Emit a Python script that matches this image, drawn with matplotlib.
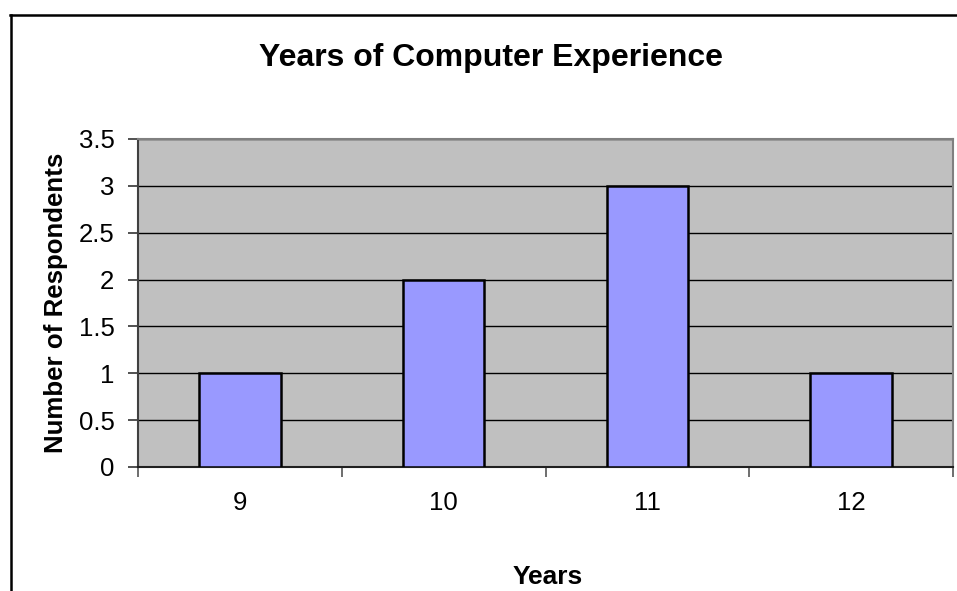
import matplotlib
matplotlib.use("Agg")
import matplotlib.pyplot as plt
from matplotlib.lines import Line2D
import numpy as np

categories = ["9", "10", "11", "12"]
values = [1, 2, 3, 1]
yticks = [0, 0.5, 1, 1.5, 2, 2.5, 3, 3.5]

plt.rcParams['font.family'] = ['Liberation Sans', 'DejaVu Sans']

W, H = 957, 591
fig = plt.figure(figsize=(W/100, H/100), dpi=100)
fig.patch.set_facecolor("white")

# plot area in pixels
L, R, T, B = 138, 953, 139, 467
ax = fig.add_axes([L/W, 1 - B/H, (R-L)/W, (B-T)/H])
ax.set_facecolor("#C0C0C0")

x = np.arange(len(categories))
ax.bar(x, values, width=0.4, color="#9999FF", edgecolor="black", linewidth=1.8, zorder=3)
ax.set_xlim(-0.5, len(categories) - 0.5)
ax.set_ylim(0, 3.5)
ax.set_yticks(yticks)
ax.set_yticklabels([f"{v:g}" for v in yticks], fontsize=18.5)
ax.yaxis.grid(True, color="black", linewidth=1.0, zorder=1)
ax.set_axisbelow(True)

ax.set_xticks(x)
ax.set_xticklabels(categories, fontsize=18.5)
ax.tick_params(axis="x", length=0, pad=17)
ax.set_xticks(np.arange(-0.5, len(categories) + 0.5, 1), minor=True)
ax.tick_params(axis="x", which="minor", length=7, width=1.2, color="#555555", direction="out")
ax.tick_params(axis="y", length=7, width=1.2, color="#333333", direction="out", pad=10)

for s in ["top", "right"]:
    ax.spines[s].set_color("#808080")
    ax.spines[s].set_linewidth(1.5)
ax.spines["left"].set_color("#404040")
ax.spines["left"].set_linewidth(1.5)
ax.spines["bottom"].set_color("#202020")
ax.spines["bottom"].set_linewidth(1.5)

fig.text(491/W, 1 - 58/H, "Years of Computer Experience", fontsize=23, fontweight="bold",
         ha="center", va="center")
fig.text(56/W, 1 - 303/H, "Number of Respondents", fontsize=18.6, fontweight="bold",
         ha="center", va="center", rotation=90)
fig.text(548/W, 1 - 577/H, "Years", fontsize=19, fontweight="bold", ha="center", va="center")

# outer chart border (top and left visible)
fig.add_artist(Line2D([10.5/W, 10.5/W], [0, 1 - 15/H], color="black", linewidth=1.8,
                      transform=fig.transFigure))
fig.add_artist(Line2D([10/W, 1], [1 - 15/H, 1 - 15/H], color="black", linewidth=1.8,
                      transform=fig.transFigure))

fig.savefig("out.png", dpi=100)
